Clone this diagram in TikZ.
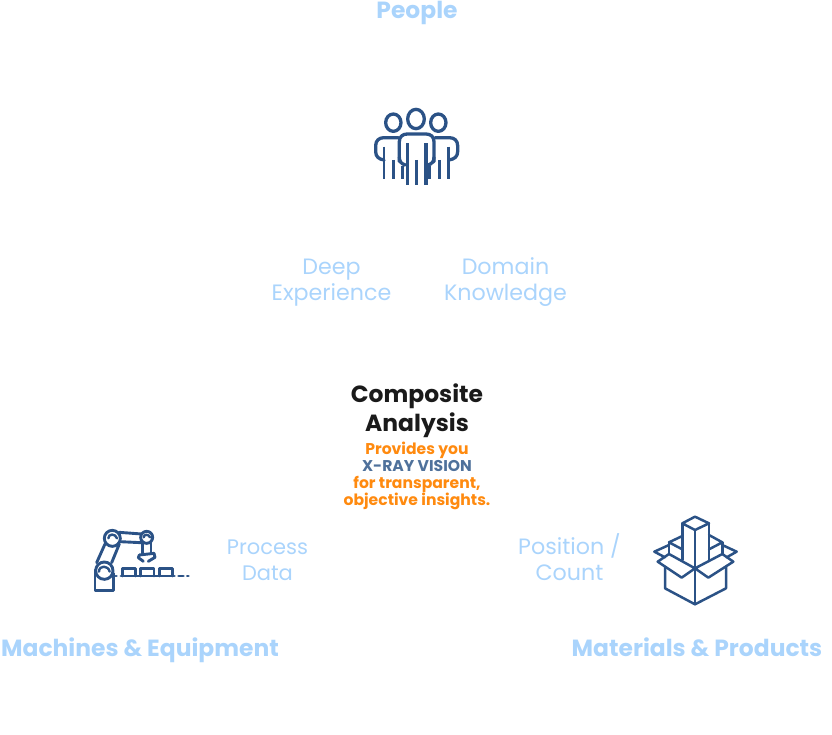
\documentclass[tikz,border=0pt]{standalone}
\usepackage{fontspec}
\setmainfont{Poppins}
\definecolor{lblue}{HTML}{AAD4FC}
\definecolor{navy}{HTML}{2B5286}
\definecolor{ink}{HTML}{1A1A1A}
\definecolor{orng}{HTML}{FF8A0F}
\definecolor{slate}{HTML}{4F719B}
\tikzset{
  head/.style={font=\fontsize{23.4}{26}\selectfont\bfseries,text=lblue,inner sep=0pt,anchor=base},
  sub/.style={font=\fontsize{22.2}{26}\selectfont,text=lblue,align=center,inner sep=0pt,anchor=base},
  icon/.style={draw=navy,line width=2.9pt,line cap=round,line join=round},
  people icon/.style={draw=navy,line width=3.3pt,line cap=round,line join=round},
  box icon/.style={draw=navy,line width=2.5pt,line cap=round,line join=round},
  thin icon/.style={draw=navy,line width=2.4pt,line cap=round,line join=round},
}
\begin{document}
\begin{tikzpicture}[x=1pt,y=-1pt]
\useasboundingbox (0,0) rectangle (832,734);
\node[head] (people) at (417,18.5) {People};
\node[head] (machines) at (140,656.5) {Machines \& Equipment};
\node[head] (materials) at (697,656.5) {Materials \& Products};
\node[sub] (deep) at (331.5,300) {Deep\\Experience};
\node[sub] (domain) at (505.5,300) {Domain\\Knowledge};
\node[sub,font=\fontsize{21}{26}\selectfont] (process) at (267.5,580) {Process\\Data};
\node[sub] (position) at (569.5,580) {Position /\\Count};
\node[font=\fontsize{23.4}{28.5}\selectfont\bfseries,text=ink,align=center,inner sep=0pt,anchor=base] (comp) at (417,431) {Composite\\Analysis};
\node[font=\fontsize{15.6}{17}\selectfont\bfseries,align=center,inner sep=0pt,anchor=base] (xray) at (417,505)
 {\textcolor{orng}{Provides you}\\\textcolor{slate}{X-RAY VISION}\\\textcolor{orng}{for transparent,}\\\textcolor{orng}{objective insights.}};
% people icon
\begin{scope}[xshift=360pt,yshift=-100pt,x=0.3333pt,y=-0.3333pt]
\draw[people icon] (168,57) ellipse [x radius=25,y radius=29];
\draw[people icon] (100,68) ellipse [x radius=23,y radius=26];
\draw[people icon] (235,68) ellipse [x radius=23,y radius=26];
\draw[people icon] (118,185) -- (118,125) .. controls (118,110) and (128,102) .. (142,102) -- (198,102) .. controls (212,102) and (222,110) .. (222,125) -- (222,185);
\draw[people icon] (118,172) .. controls (118,185) and (125,192) .. (136,195);
\draw[people icon] (222,172) .. controls (222,185) and (215,192) .. (204,195);
\draw[people icon] (115,113) -- (72,113) .. controls (57,113) and (47,122) .. (47,137) -- (47,155) .. controls (47,170) and (57,178) .. (72,180);
\draw[people icon] (225,113) -- (268,113) .. controls (283,113) and (293,122) .. (293,137) -- (293,155) .. controls (293,170) and (283,178) .. (266,180);
\foreach \x in {142,170,198} \draw[people icon,line cap=butt] (\x,\ifnum\x=170 180\else 130\fi) -- (\x,254);
\foreach \x/\y in {72/140,100/180,128/197,208/197,238/180,266/140} \draw[people icon,line width=2.8pt,line cap=butt] (\x,\y) -- (\x,236);
\end{scope}
% robot icon
\begin{scope}[xshift=85pt,yshift=-520pt,x=0.3333pt,y=-0.3333pt]
\draw[icon] (30,150) -- (30,212) -- (85,212) -- (85,160);
\draw[icon] (58,152) circle [radius=26];
\draw[thin icon] (42,155) .. controls (42,135) and (70,135) .. (74,155);
\draw[icon] (35,128) -- (60,72);
\draw[icon] (80,128) -- (103,72);
\draw[icon] (82,55) circle [radius=24];
\draw[thin icon] (70,55) .. controls (70,40) and (92,40) .. (96,55);
\draw[icon] (103,37) -- (170,42);
\draw[icon] (105,65) -- (168,68);
\draw[icon] (185,52) circle [radius=18];
\draw[thin icon] (176,52) .. controls (176,42) and (192,42) .. (195,52);
\draw[icon] (172,70) -- (172,102);
\draw[icon] (198,70) -- (198,100);
\draw[icon] (163,105) -- (207,100);
\draw[icon] (163,105) -- (160,113) -- (175,124);
\draw[icon] (207,100) -- (210,112) -- (190,124);
\draw[icon] (108,168) -- (268,168);
\draw[icon] (112,168) -- (112,146) -- (152,146) -- (152,168);
\draw[icon] (167,168) -- (167,146) -- (207,146) -- (207,168);
\draw[icon] (223,168) -- (223,146) -- (262,146) -- (262,168);
\draw[icon] (92,168) -- (94,168);
\draw[icon] (281,168) -- (295,168);
\draw[icon] (307,168) -- (310,168);
\end{scope}
% box icon
\begin{scope}[xshift=645pt,yshift=-510pt,x=0.3333pt,y=-0.3333pt]
\draw[box icon] (112,40) -- (150,20) -- (192,40) -- (150,60) -- cycle;
\draw[box icon] (112,40) -- (112,150);
\draw[box icon] (150,60) -- (150,283);
\draw[box icon] (192,40) -- (192,150);
\draw[box icon] (112,78) -- (72,97) -- (112,118);
\draw[box icon] (192,75) -- (232,97) -- (192,118);
\draw[box icon] (72,97) -- (72,132);
\draw[box icon] (232,97) -- (232,132);
\draw[box icon] (72,105) -- (28,125) -- (60,142);
\draw[box icon] (232,105) -- (275,125) -- (245,142);
\draw[box icon] (72,132) -- (38,155) -- (110,203) -- (150,175) -- (72,132);
\draw[box icon] (232,132) -- (265,155) -- (190,203) -- (150,175) -- (232,132);
\draw[box icon] (60,170) -- (60,235) -- (150,283) -- (243,235) -- (243,170);
\end{scope}
\end{tikzpicture}
\end{document}
